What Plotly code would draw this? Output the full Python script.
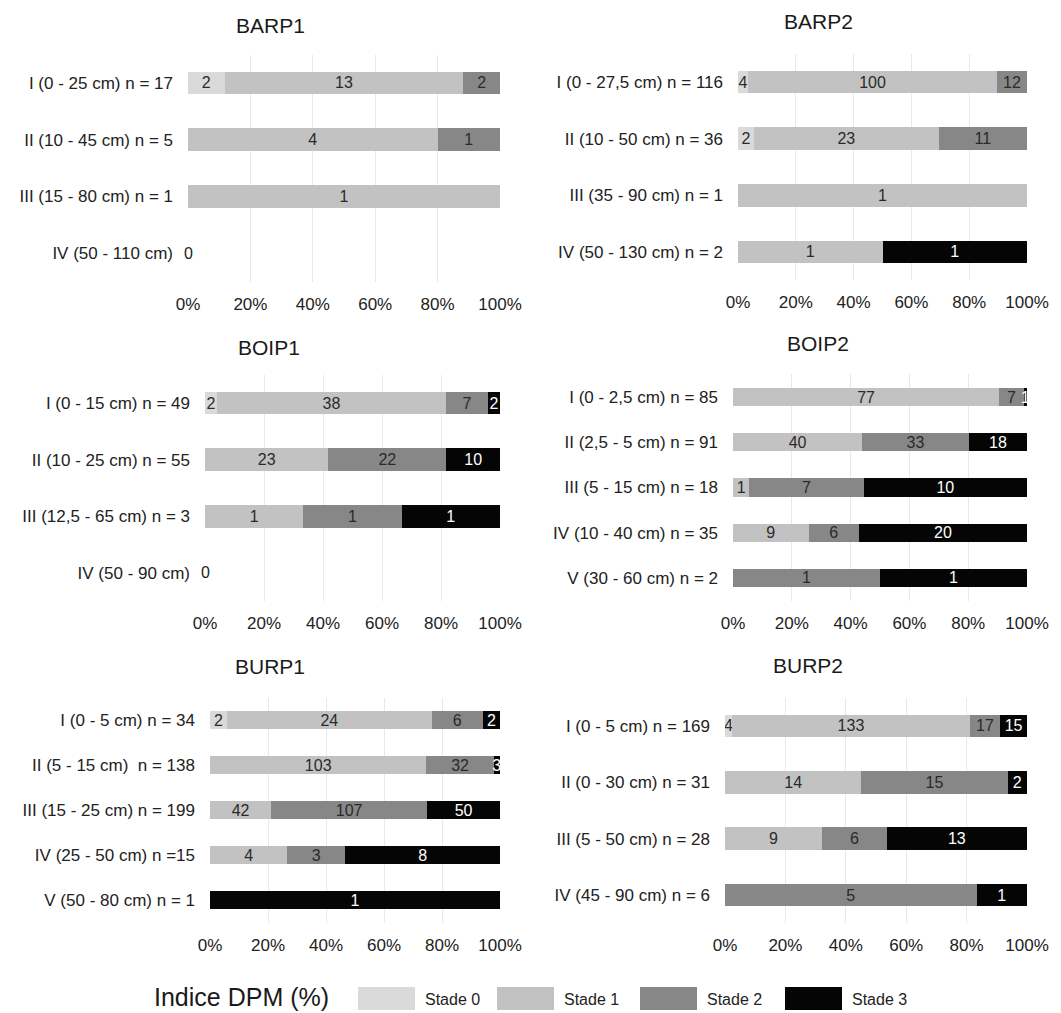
import plotly.graph_objects as go

# ---------------- data ----------------
stage_names = ["Stade 0", "Stade 1", "Stade 2", "Stade 3"]
tick_vals = [0, 20, 40, 60, 80, 100]
tick_text = ["0%", "20%", "40%", "60%", "80%", "100%"]

barp1_rows = ["I (0 - 25 cm) n = 17", "II (10 - 45 cm) n = 5", "III (15 - 80 cm) n = 1", "IV (50 - 110 cm)"]
barp1_s0 = [2, 0, 0, 0]
barp1_s1 = [13, 4, 1, 0]
barp1_s2 = [2, 1, 0, 0]
barp1_s3 = [0, 0, 0, 0]

barp2_rows = ["I (0 - 27,5 cm) n = 116", "II (10 - 50 cm) n = 36", "III (35 - 90 cm) n = 1", "IV (50 - 130 cm) n = 2"]
barp2_s0 = [4, 2, 0, 0]
barp2_s1 = [100, 23, 1, 1]
barp2_s2 = [12, 11, 0, 0]
barp2_s3 = [0, 0, 0, 1]

boip1_rows = ["I (0 - 15 cm) n = 49", "II (10 - 25 cm) n = 55", "III (12,5 - 65 cm) n = 3", "IV (50 - 90 cm)"]
boip1_s0 = [2, 0, 0, 0]
boip1_s1 = [38, 23, 1, 0]
boip1_s2 = [7, 22, 1, 0]
boip1_s3 = [2, 10, 1, 0]

boip2_rows = ["I (0 - 2,5 cm) n = 85", "II (2,5 - 5 cm) n = 91", "III (5 - 15 cm) n = 18", "IV (10 - 40 cm) n = 35", "V (30 - 60 cm) n = 2"]
boip2_s0 = [0, 0, 0, 0, 0]
boip2_s1 = [77, 40, 1, 9, 0]
boip2_s2 = [7, 33, 7, 6, 1]
boip2_s3 = [1, 18, 10, 20, 1]

burp1_rows = ["I (0 - 5 cm) n = 34", "II (5 - 15 cm)  n = 138", "III (15 - 25 cm) n = 199", "IV (25 - 50 cm) n =15", "V (50 - 80 cm) n = 1"]
burp1_s0 = [2, 0, 0, 0, 0]
burp1_s1 = [24, 103, 42, 4, 0]
burp1_s2 = [6, 32, 107, 3, 0]
burp1_s3 = [2, 3, 50, 8, 1]

burp2_rows = ["I (0 - 5 cm) n = 169", "II (0 - 30 cm) n = 31", "III (5 - 50 cm) n = 28", "IV (45 - 90 cm) n = 6"]
burp2_s0 = [4, 0, 0, 0]
burp2_s1 = [133, 14, 9, 0]
burp2_s2 = [17, 15, 6, 5]
burp2_s3 = [15, 2, 13, 1]

# ---------------- style / layout ----------------
W, H = 1061, 1013
FONT = "Liberation Sans, Arial, sans-serif"
colors = ["#dadada", "#c2c2c2", "#878787", "#050505"]
label_colors = ["#2a2a2a", "#2a2a2a", "#2a2a2a", "#ffffff"]

panels = [
    dict(title="BARP1", rows=barp1_rows, vals=[barp1_s0, barp1_s1, barp1_s2, barp1_s3],
         px=(188, 500), py=(54.5, 281.5), tpos=(270, 25)),
    dict(title="BARP2", rows=barp2_rows, vals=[barp2_s0, barp2_s1, barp2_s2, barp2_s3],
         px=(738, 1027), py=(53.7, 280.3), tpos=(818, 22)),
    dict(title="BOIP1", rows=boip1_rows, vals=[boip1_s0, boip1_s1, boip1_s2, boip1_s3],
         px=(205, 500), py=(374.7, 601.3), tpos=(269, 347)),
    dict(title="BOIP2", rows=boip2_rows, vals=[boip2_s0, boip2_s1, boip2_s2, boip2_s3],
         px=(733, 1027), py=(374.4, 600.6), tpos=(818, 344)),
    dict(title="BURP1", rows=burp1_rows, vals=[burp1_s0, burp1_s1, burp1_s2, burp1_s3],
         px=(210, 500), py=(697.5, 922.5), tpos=(270, 666)),
    dict(title="BURP2", rows=burp2_rows, vals=[burp2_s0, burp2_s1, burp2_s2, burp2_s3],
         px=(725, 1027), py=(697.8, 923.2), tpos=(808, 665)),
]

fig = go.Figure()
annotations = []
shapes = []
layout_axes = {}

for i, p in enumerate(panels):
    k = "" if i == 0 else str(i + 1)
    xa, ya = "x" + k, "y" + k
    for s in range(4):
        vals = p["vals"][s]
        fig.add_trace(go.Bar(
            y=p["rows"], x=vals, orientation="h",
            name=stage_names[s], showlegend=False,
            marker=dict(color=colors[s], line=dict(width=0)),
            text=[str(v) if v else "" for v in vals],
            textposition="inside", insidetextanchor="middle", textangle=0,
            textfont=dict(family=FONT, size=16, color=label_colors[s]),
            xaxis=xa, yaxis=ya, hoverinfo="x+y+name",
        ))
    # rows with zero total: show "0" at the origin
    for r, row in enumerate(p["rows"]):
        total = sum(p["vals"][s][r] for s in range(4))
        if total == 0:
            annotations.append(dict(x=0, y=row, xref=xa, yref=ya, text="0", showarrow=False,
                                    xanchor="center", font=dict(family=FONT, size=16, color="#222")))
    x0, x1 = p["px"]
    y0, y1 = p["py"]
    layout_axes["xaxis" + k] = dict(
        domain=[x0 / W, x1 / W], anchor=ya, range=[0, 100], automargin=False,
        tickvals=tick_vals, ticktext=tick_text, showgrid=True, gridcolor="#e9e9e9",
        gridwidth=1, zeroline=False, showline=False, ticks="",
        tickfont=dict(family=FONT, size=17, color="#222"), ticklabelstandoff=10,
        fixedrange=True,
    )
    layout_axes["yaxis" + k] = dict(
        domain=[1 - y1 / H, 1 - y0 / H], anchor=xa, autorange="reversed", automargin=False,
        type="category", showgrid=False, zeroline=False, showline=False, ticks="",
        tickfont=dict(family=FONT, size=17, color="#222"), ticklabelstandoff=14,
        fixedrange=True,
    )
    tx, ty = p["tpos"]
    annotations.append(dict(x=tx / W, y=1 - ty / H, xref="paper", yref="paper", text=p["title"],
                            showarrow=False, xanchor="center", yanchor="middle",
                            font=dict(family=FONT, size=21, color="#1a1a1a")))

# ---------------- custom legend ----------------
annotations.append(dict(x=152 / W, y=1 - 997 / H, xref="paper", yref="paper", text="Indice DPM (%)",
                        showarrow=False, xanchor="left", yanchor="middle",
                        font=dict(family=FONT, size=25, color="#1a1a1a")))
swatch_x = [358, 497, 640, 785]
for s in range(4):
    sx = swatch_x[s]
    shapes.append(dict(type="rect", xref="paper", yref="paper",
                       x0=sx / W, x1=(sx + 57) / W, y0=1 - 1010 / H, y1=1 - 987 / H,
                       fillcolor=colors[s], line=dict(width=0)))
    annotations.append(dict(x=(sx + 65) / W, y=1 - 999 / H, xref="paper", yref="paper",
                            text=stage_names[s], showarrow=False, xanchor="left", yanchor="middle",
                            font=dict(family=FONT, size=16, color="#222")))

fig.update_layout(
    width=W, height=H, margin=dict(l=0, r=0, t=0, b=0, autoexpand=False),
    paper_bgcolor="white", plot_bgcolor="white",
    barmode="stack", barnorm="percent", bargap=0.6,
    uniformtext=dict(minsize=16, mode="show"),
    annotations=annotations, shapes=shapes,
    font=dict(family=FONT, color="#222"),
    **layout_axes,
)

fig.write_html("out.html", config={"displayModeBar": False},
               post_script="document.body.style.margin='0';document.body.style.overflow='hidden';")
